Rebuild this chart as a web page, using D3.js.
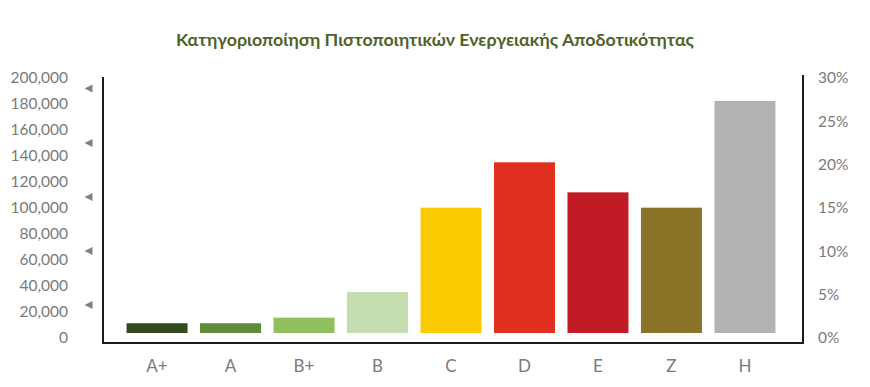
<!DOCTYPE html>
<html><head>
<meta charset="utf-8">
<title>Energy certificates</title>
<script src="https://d3js.org/d3.v7.min.js"></script>
<style>
  body { margin: 0; background: #fff; }
  .title { font-family: Lato, "Open Sans", sans-serif; font-weight: 700; font-size: 17.8px; fill: #4f6228; }
  .tick text { font-family: Lato, "Open Sans", sans-serif; font-size: 15.5px; fill: #7a7a7a; }
  .xaxis .tick text { font-size: 17px; }
  .frame { stroke: #1a1a1a; stroke-width: 2px; fill: none; }
  .marker { fill: #808080; }
</style>
</head>
<body>
<svg id="chart" width="870" height="387"></svg>
<script>
  // values
  const classes = ["A+", "A", "B+", "B", "C", "D", "E", "Z", "H"];
  const counts = [7500, 7500, 11800, 31500, 96400, 131300, 108200, 96400, 178500];
  const colors = ["#33491f", "#5f8b3a", "#8fbf5e", "#c5dcae", "#f9ca00", "#e1301f", "#c11c25", "#8a7428", "#b3b3b5"];
  const leftTicks = [0, 20000, 40000, 60000, 80000, 100000, 120000, 140000, 160000, 180000, 200000];
  const rightTicks = [0, 0.05, 0.10, 0.15, 0.20, 0.25, 0.30];
  // the little grey arrows beside the left axis
  const arrowMarks = [192000, 150000, 108500, 66900, 25400];

  const svg = d3.select("#chart");
  const plotLeft = 103, plotRight = 803, plotTop = 76, plotBottom = 343;

  const y = d3.scaleLinear().domain([0, 200000]).range([333, 73]);
  const yPct = d3.scaleLinear().domain([0, 0.30]).range([333, 73]);
  const x = d3.scaleBand().domain(classes).range([120.3, 781.7]).paddingInner(0.17).paddingOuter(0.085);

  svg.append("text").attr("class", "title")
    .attr("x", 435).attr("y", 46).attr("text-anchor", "middle")
    .text("Κατηγοριοποίηση Πιστοποιητικών Ενεργειακής Αποδοτικότητας");

  // bars
  svg.selectAll(".bar").data(counts).enter()
    .append("rect")
    .attr("class", "bar")
    .attr("x", (d, i) => x(classes[i]))
    .attr("width", x.bandwidth())
    .attr("y", d => y(d))
    .attr("height", d => y(0) - y(d))
    .attr("fill", (d, i) => colors[i]);

  // left axis labels
  const yAxis = d3.axisLeft(y).tickValues(leftTicks).tickFormat(d3.format(",")).tickSize(0).tickPadding(35);
  const gl = svg.append("g").attr("transform", "translate(" + plotLeft + ",0)").call(yAxis);
  gl.select(".domain").remove();
  gl.selectAll(".tick text").attr("dy", "0.32em").attr("y", 5);

  // right axis labels
  const yAxisR = d3.axisRight(yPct).tickValues(rightTicks).tickFormat(d3.format(".0%")).tickSize(0).tickPadding(15);
  const gr = svg.append("g").attr("transform", "translate(" + plotRight + ",0)").call(yAxisR);
  gr.select(".domain").remove();
  gr.selectAll(".tick text").attr("dy", "0.32em").attr("y", 5);

  // category labels
  const xAxis = d3.axisBottom(x).tickSize(0).tickPadding(17);
  const gx = svg.append("g").attr("class", "xaxis").attr("transform", "translate(0," + plotBottom + ")").call(xAxis);
  gx.select(".domain").remove();

  // frame: left, bottom, right
  svg.append("path").attr("class", "frame")
    .attr("d", "M" + plotLeft + "," + (plotTop + 1) + "V" + plotBottom + "H" + plotRight + "V" + (plotTop - 1));

  // arrow markers
  svg.selectAll(".marker").data(arrowMarks).enter()
    .append("path")
    .attr("class", "marker")
    .attr("d", d => "M84.5," + (y(d) + 5) + "l8,-4v8z");
</script>
</body></html>
